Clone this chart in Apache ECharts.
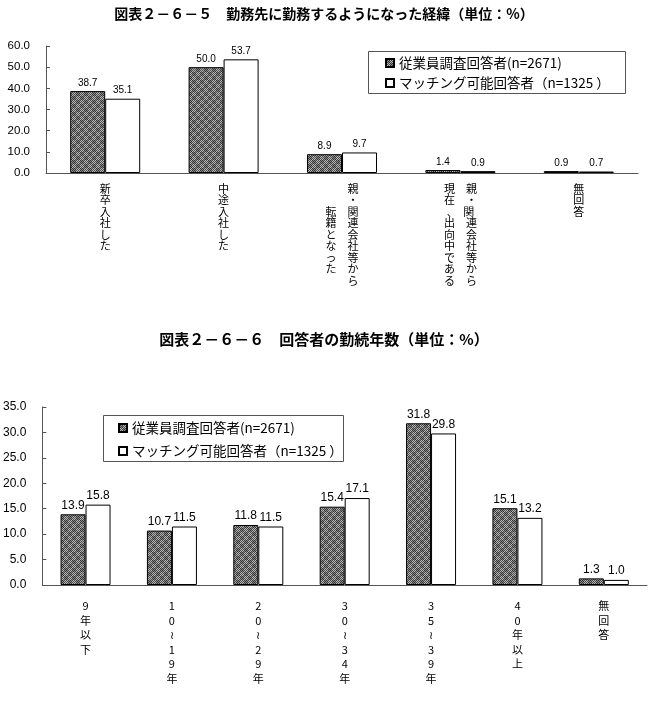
<!DOCTYPE html>
<html>
<head>
<meta charset="utf-8">
<title>勤務先に勤務するようになった経緯 / 回答者の勤続年数</title>
<script src="https://cdn.jsdelivr.net/npm/echarts@6/dist/echarts.min.js"></script>
<style>
    html, body { margin: 0; padding: 0; background: #fff; }
    #chart { width: 648px; height: 726px; }
</style>
</head>
<body>
<div id="chart"></div>
<script>
// 図表2-6-5 categories: columns in reading order (right column first)
const routeCategories = [
    ['新卒入社した'],
    ['中途入社した'],
    ['親・関連会社等から', '転籍となった'],
    ['親・関連会社等から', '現在、出向中である'],
    ['無回答']
];
const routeEmployee = [38.7, 50.0, 8.9, 1.4, 0.9];
const routeMatching = [35.1, 53.7, 9.7, 0.9, 0.7];

// 図表2-6-6
const tenureCategories = ['9年以下', '10≀19年', '20≀29年', '30≀34年', '35≀39年', '40年以上', '無回答'];
const tenureEmployee = [13.9, 10.7, 11.8, 15.4, 31.8, 15.1, 1.3];
const tenureMatching = [15.8, 11.5, 11.5, 17.1, 29.8, 13.2, 1.0];

const employeeName = '従業員調査回答者(n=2671)';
const matchingName = 'マッチング可能回答者（n=1325 ）';

const JP = "'Noto Sans CJK JP', sans-serif";
const NUM = "'Liberation Sans', Arial, sans-serif";
const AXIS_COLOR = '#555';

function makeHatch() {
    const c = document.createElement('canvas');
    c.width = 8;
    c.height = 8;
    const ctx = c.getContext('2d');
    for (let y = 0; y < 8; y++) {
        for (let x = 0; x < 8; x++) {
            const coarse = ((x >> 2) + (y >> 2)) % 2 === 0;
            const fine = (x + y) % 2 === 0;
            ctx.fillStyle = coarse ? (fine ? '#333' : '#8a8a8a') : (fine ? '#4a4a4a' : '#b8b8b8');
            ctx.fillRect(x, y, 1, 1);
        }
    }
    return c;
}

const hatch = { image: makeHatch(), repeat: 'repeat' };

// vertical Japanese label, right column first
function verticalColumns(cols) {
    if (cols.length === 1) return Array.from(cols[0]).join('\n');
    const right = Array.from(cols[0]);
    const left = Array.from(cols[1]);
    const n = Math.max(right.length, left.length);
    const offR = Math.ceil((n - right.length) / 2);
    const offL = Math.ceil((n - left.length) / 2);
    const lines = [];
    for (let i = 0; i < n; i++) {
        const l = left[i - offL] || '　';
        const r = right[i - offR] || '　';
        lines.push(l + '　' + r);
    }
    return lines.join('\n');
}

function barSeries(name, data, axis, isEmployee, width, fontSize) {
    return {
        name: name,
        type: 'bar',
        xAxisIndex: axis,
        yAxisIndex: axis,
        data: data,
        barWidth: width,
        barGap: '0%',
        itemStyle: {
            color: isEmployee ? hatch : '#fff',
            borderColor: '#000',
            borderWidth: 1
        },
        label: {
            show: true,
            position: 'top',
            distance: 3,
            color: '#000',
            fontFamily: NUM,
            fontSize: fontSize,
            formatter: p => p.value.toFixed(1)
        }
    };
}

function valueAxis(grid, max, interval, fontSize) {
    return {
        type: 'value',
        gridIndex: grid,
        min: 0,
        max: max,
        interval: interval,
        splitLine: { show: false },
        axisLine: { show: true, lineStyle: { color: AXIS_COLOR } },
        axisTick: { show: true, inside: true, length: 4, lineStyle: { color: AXIS_COLOR } },
        axisLabel: {
            color: '#000',
            fontFamily: NUM,
            fontSize: fontSize,
            margin: 16,
            formatter: v => v.toFixed(1)
        }
    };
}

const chart = echarts.init(document.getElementById('chart'));

const option = {
    animation: false,
    backgroundColor: '#fff',
    title: [
        {
            text: '図表２－６－５　勤務先に勤務するようになった経緯（単位：%）',
            left: 'center',
            top: 2,
            padding: [5, 0, 5, 16],
            textStyle: { fontFamily: JP, fontSize: 14, fontWeight: 'bold', color: '#000' }
        },
        {
            text: '図表２－６－６　回答者の勤続年数（単位：%）',
            left: 'center',
            top: 327,
            padding: [5, 0, 5, 16],
            textStyle: { fontFamily: JP, fontSize: 15, fontWeight: 'bold', color: '#000' }
        }
    ],
    legend: [
        {
            orient: 'vertical',
            left: 385,
            top: 56,
            padding: 0,
            itemGap: 6,
            itemWidth: 8,
            itemHeight: 8,
            icon: 'rect',
            selectedMode: false,
            data: [employeeName, matchingName],
            textStyle: { fontFamily: JP, fontSize: 13.5, lineHeight: 14, color: '#000' }
        },
        {
            orient: 'vertical',
            left: 118,
            top: 421,
            padding: 0,
            itemGap: 9,
            itemWidth: 8,
            itemHeight: 8,
            icon: 'rect',
            selectedMode: false,
            data: [employeeName, matchingName],
            textStyle: { fontFamily: JP, fontSize: 13.5, lineHeight: 14, color: '#000' }
        }
    ],
    graphic: [
        {
            type: 'rect',
            shape: { x: 368.5, y: 51.5, width: 257, height: 42 },
            style: { fill: 'none', stroke: '#555', lineWidth: 1 }
        },
        {
            type: 'rect',
            shape: { x: 103.5, y: 415.5, width: 240, height: 46 },
            style: { fill: 'none', stroke: '#555', lineWidth: 1 }
        }
    ],
    grid: [
        { left: 46, top: 46, width: 592, height: 127 },
        { left: 40, top: 407, width: 607, height: 178 }
    ],
    xAxis: [
        {
            type: 'category',
            gridIndex: 0,
            data: routeCategories.map(c => c.join('')),
            axisLine: { lineStyle: { color: AXIS_COLOR } },
            axisTick: { inside: true, length: 4, lineStyle: { color: AXIS_COLOR } },
            axisLabel: {
                interval: 0,
                margin: 10,
                color: '#000',
                fontFamily: JP,
                fontSize: 11,
                lineHeight: 11.5,
                verticalAlign: 'top',
                formatter: (v, i) => verticalColumns(routeCategories[i])
            }
        },
        {
            type: 'category',
            gridIndex: 1,
            data: tenureCategories,
            axisLine: { lineStyle: { color: AXIS_COLOR } },
            axisTick: { inside: true, length: 4, lineStyle: { color: AXIS_COLOR } },
            axisLabel: {
                interval: 0,
                margin: 14,
                color: '#000',
                fontFamily: JP,
                fontSize: 11,
                lineHeight: 14.5,
                verticalAlign: 'top',
                formatter: v => Array.from(v).join('\n')
            }
        }
    ],
    yAxis: [
        valueAxis(0, 60, 10, 11.5),
        valueAxis(1, 35, 5, 12)
    ],
    series: [
        barSeries(employeeName, routeEmployee, 0, true, 35, 10),
        barSeries(matchingName, routeMatching, 0, false, 35, 10),
        barSeries(employeeName, tenureEmployee, 1, true, 25, 12),
        barSeries(matchingName, tenureMatching, 1, false, 25, 12)
    ]
};

chart.setOption(option);
</script>
</body>
</html>
